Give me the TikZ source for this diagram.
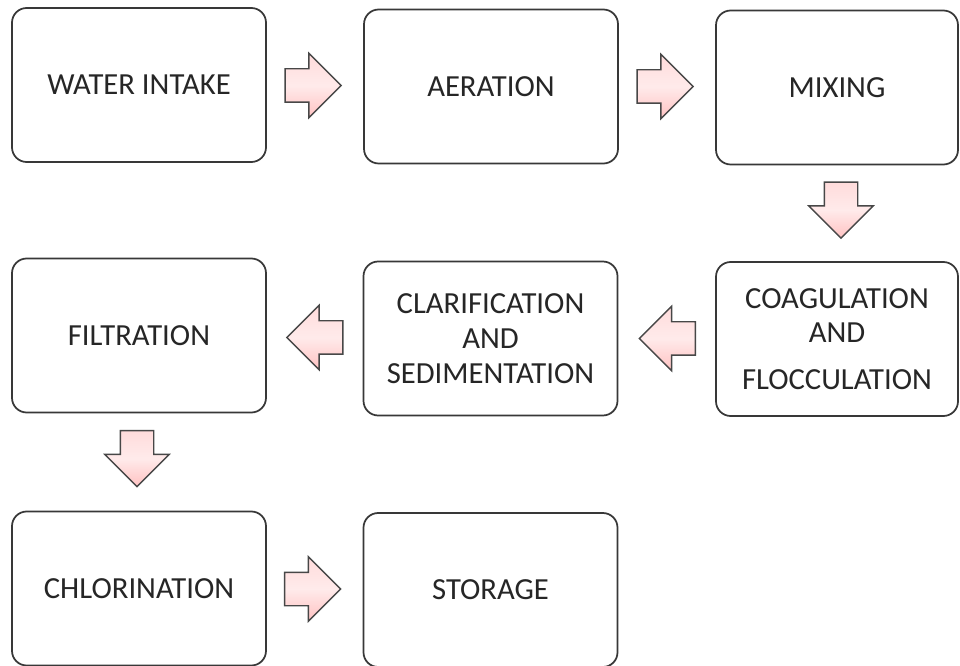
\documentclass[tikz,border=0pt]{standalone}
\usepackage{fontspec}
\setmainfont{Carlito}
\usetikzlibrary{shapes.arrows,calc}
\begin{document}
\begin{tikzpicture}[x=0.75pt,y=-0.75pt,
  stagebox/.style={draw=black!78,line width=1.3pt,rounded corners=11pt,fill=white,
    minimum width=190.5pt,minimum height=115.5pt,align=center,text=black!85,
    font=\fontsize{23}{26}\selectfont,inner sep=2pt},
  blockarrow/.style={single arrow,draw=black!72,line width=1.1pt,
    top color=red!14,bottom color=red!24,middle color=red!8,
    minimum height=42pt,minimum width=47pt,single arrow head extend=11.6pt,
    inner sep=12pt,anchor=tip}]
\useasboundingbox (0,0) rectangle (960,666);
\fill[white] (0,0) rectangle (960,666);

% process stages
\node[stagebox] (intake)  at (139,85)    {WATER INTAKE};
\node[stagebox] (aer)     at (491,86.5)  {AERATION};
\node[stagebox,minimum width=181.5pt] (mix) at (837,87.5) {MIXING};
\node[stagebox,minimum width=181.5pt] (coag) at (837,339)
  {COAGULATION\\AND\\[9pt]FLOCCULATION};
\node[stagebox] (clar)    at (490.5,338.5) {CLARIFICATION\\AND\\SEDIMENTATION};
\node[stagebox] (filt)    at (139,335.5) {FILTRATION};
\node[stagebox] (chlor)   at (139,588.5) {CHLORINATION};
\node[stagebox] (store)   at (490.5,590) {STORAGE};

% block arrows, each tip placed just short of the next stage
\node[blockarrow] (a1) at ($(aer.west)+(-21,-1)$) {};
\node[blockarrow] (a2) at ($(mix.west)+(-21,-1)$) {};
\node[blockarrow,shape border rotate=270] (a3) at ($(coag.north)+(4,-22)$) {};
\node[blockarrow,shape border rotate=180] (a4) at ($(clar.east)+(20,0)$) {};
\node[blockarrow,shape border rotate=180] (a5) at ($(filt.east)+(19,2)$) {};
\node[blockarrow,shape border rotate=270] (a6) at ($(chlor.north)+(-2,-23)$) {};
\node[blockarrow] (a7) at ($(store.west)+(-21,-1)$) {};
\end{tikzpicture}
\end{document}
